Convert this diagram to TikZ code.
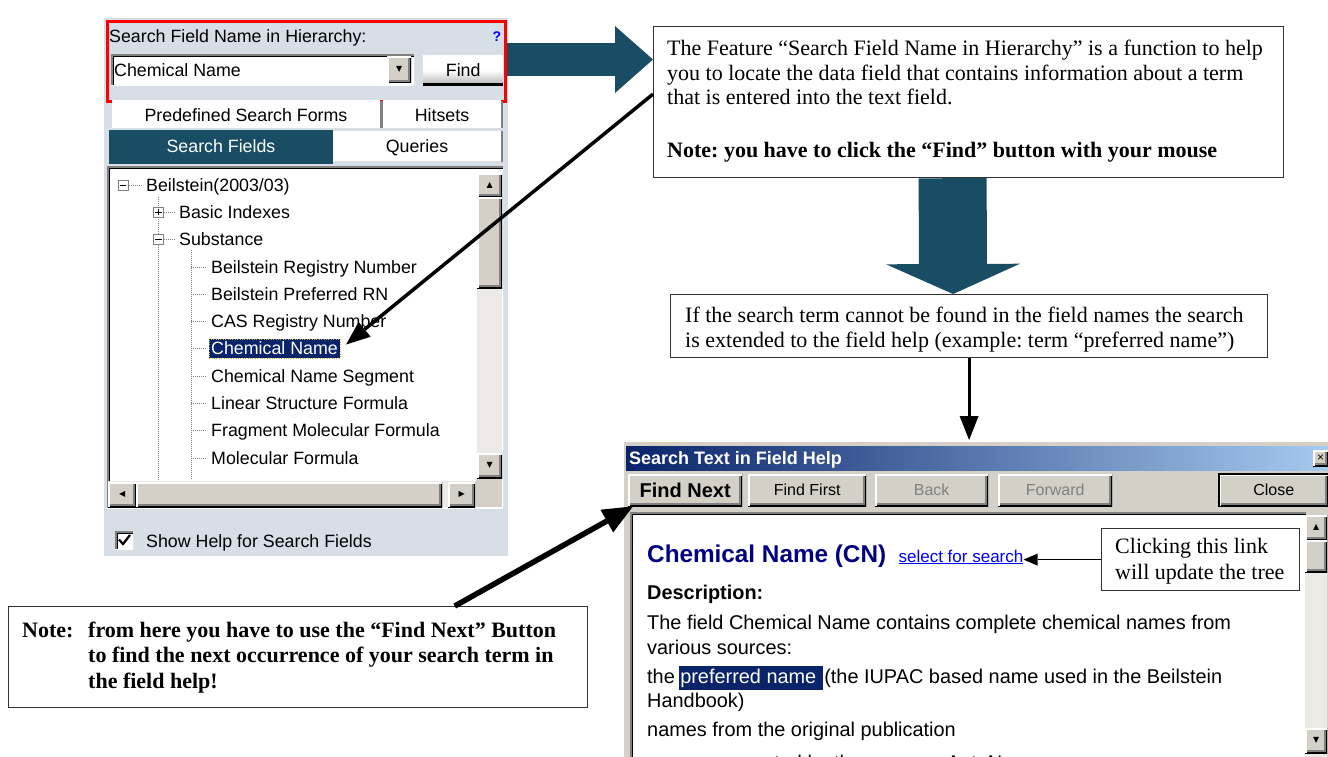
\documentclass[tikz,border=0pt]{standalone}
\usepackage{fontspec}
\setmainfont{Liberation Serif}
\setsansfont{Liberation Sans}
\newfontfamily\symfont{DejaVu Sans}
\usetikzlibrary{arrows.meta,positioning,calc}
\frenchspacing

\definecolor{panelblue}{HTML}{D7DEE6}
\definecolor{deepteal}{HTML}{194D63}
\definecolor{wingray}{HTML}{D4D0C8}
\definecolor{winshadow}{HTML}{808080}
\definecolor{seldark}{HTML}{0A246A}
\definecolor{titlelight}{HTML}{A6CAF0}
\definecolor{trackgray}{HTML}{ECEAE6}
\definecolor{linkblue}{HTML}{0000FF}
\definecolor{headblue}{HTML}{000080}

\newcommand{\uifont}{\sffamily\fontsize{17.8}{20}\selectfont}
\newcommand{\helpfont}{\sffamily\fontsize{19.9}{22}\selectfont}
\newcommand{\notefont}{\rmfamily\fontsize{22}{24.5}\selectfont}

\tikzset{
  ui/.style={font=\uifont, inner sep=0, anchor=base west},
  helptext/.style={font=\helpfont, inner sep=0, anchor=base west},
  notetext/.style={font=\notefont, inner sep=0, anchor=base west},
  calloutbox/.style={draw=black!80, line width=1.2, fill=white, inner sep=0, anchor=north west},
  raised/.style={fill=wingray, inner sep=0, anchor=north west,
    path picture={
      \draw[winshadow,line width=6] (path picture bounding box.south west) -- (path picture bounding box.south east) -- (path picture bounding box.north east);
      \draw[black,line width=2.4] (path picture bounding box.south west) -- (path picture bounding box.south east) -- (path picture bounding box.north east);
      \draw[white,line width=3] (path picture bounding box.south west) -- (path picture bounding box.north west) -- (path picture bounding box.north east);
    }},
  sunken/.style={fill=white, inner sep=0, anchor=north west,
    path picture={
      \draw[white,line width=3] (path picture bounding box.south west) -- (path picture bounding box.south east) -- (path picture bounding box.north east);
      \draw[black,line width=6] (path picture bounding box.south west) -- (path picture bounding box.north west) -- (path picture bounding box.north east);
      \draw[winshadow,line width=3] (path picture bounding box.south west) -- (path picture bounding box.north west) -- (path picture bounding box.north east);
    }},
  arrowglyph/.style={font=\symfont\fontsize{8}{8}\selectfont, inner sep=0},
  treeline/.style={winshadow, line width=0.9, dash pattern=on 1pt off 1pt},
  expander/.style={draw=winshadow, fill=white, minimum size=10, inner sep=0},
  fatarrow/.style={deepteal, line width=33, -{Triangle[length=38pt,width=67pt,line width=0pt]}},
  pointer/.style={black, line width=3, -{Triangle[length=24pt,width=19pt,line width=0pt]}},
}

\begin{document}
\begin{tikzpicture}[x=1pt,y=-1pt]
  \useasboundingbox (0,0) rectangle (1328,756);
  \fill[white] (0,0) rectangle (1328,756);

  % ---------- search panel ----------
  \fill[panelblue] (104,18) rectangle (508,556);

  \node[ui] (fieldlabel) at (109,42) {Search Field Name in Hierarchy:};
  \node[font=\sffamily\bfseries\fontsize{14}{14}\selectfont, text=linkblue, inner sep=0, anchor=base] (helpmark) at (497,41) {?};
  \node[sunken, minimum width=303, minimum height=31] (combo) at (111,54) {};
  \node[ui] (combotext) at (114,76) {Chemical Name};
  \node[raised, minimum width=24, minimum height=26] (combodrop) at (387,56.5) {};
  \node[arrowglyph] (dropglyph) at (combodrop) {▼};
  \node[top color=white, bottom color=gray!60, middle color=white, minimum width=80, minimum height=30,
        inner sep=0, anchor=north west, font=\uifont,
        path picture={\draw[black,line width=4] (path picture bounding box.south west) -- (path picture bounding box.south east);}]
        (findbtn) at (423,55) {Find};
  \node[draw=red, line width=3, minimum width=398, minimum height=80, inner sep=0, anchor=north west] (findpanel) at (106,19.5) {};

  % tabs
  \fill[white] (112,100) rectangle (380,128);
  \draw[winshadow, line width=3] (381.5,101) -- (381.5,128);
  \node[ui, anchor=base] (tabforms) at (246,121) {Predefined Search Forms};
  \fill[white] (383,100) rectangle (501,128);
  \draw[winshadow, line width=2] (502,101) -- (502,128);
  \node[ui, anchor=base] (tabhits) at (442,121) {Hitsets};
  \fill[deepteal] (109,130) rectangle (333,164);
  \node[ui, anchor=base, text=white] (tabfields) at (221,152) {Search Fields};
  \fill[white] (333,131) rectangle (501,161);
  \draw[winshadow, line width=2] (502,131) -- (502,162);
  \node[ui, anchor=base] (tabqueries) at (417,152) {Queries};

  % field tree
  \node[sunken, minimum width=396, minimum height=342] (treebox) at (107,166) {};
  \draw[treeline] (158.5,197) -- (158.5,480);
  \draw[treeline] (191,250) -- (191,480);
  \draw[treeline] (129,185) -- (142,185);
  \foreach \y in {212,239}
    \draw[treeline] (164,\y) -- (176,\y);
  \foreach \i in {0,...,7}
    \draw[treeline] (191,{267+27.3*\i}) -- (206,{267+27.3*\i});

  \node[expander] (rootexp) at (123,185) {};
  \draw ([xshift=2]rootexp.west) -- ([xshift=-2]rootexp.east);
  \node[expander] (basicexp) at (158.5,212) {};
  \draw ([xshift=2]basicexp.west) -- ([xshift=-2]basicexp.east);
  \draw ([yshift=-2]basicexp.north) -- ([yshift=2]basicexp.south);
  \node[expander] (substexp) at (158.5,239) {};
  \draw ([xshift=2]substexp.west) -- ([xshift=-2]substexp.east);

  \node[ui] (rootitem) at (146,191) {Beilstein(2003/03)};
  \node[ui] (basicitem) at (179,218) {Basic Indexes};
  \node[ui] (substitem) at (179,245) {Substance};
  \foreach \i/\lab in {0/Beilstein Registry Number, 1/Beilstein Preferred RN, 2/CAS Registry Number,
                      4/Chemical Name Segment, 5/Linear Structure Formula, 6/Fragment Molecular Formula,
                      7/Molecular Formula}
    \node[ui] (field\i) at (211,{273+27.3*\i}) {\lab};
  \node[ui, fill=seldark, text=white, draw=yellow!70!black, dotted, inner xsep=2, inner ysep=3] (chemsel) at (209,{273+27.3*3}) {Chemical Name};

  % tree scrollbars
  \fill[trackgray] (477,173) rectangle (502,479);
  \node[raised, minimum width=25, minimum height=24] (treeup) at (477,173) {};
  \node[arrowglyph] (treeupglyph) at (treeup) {▲};
  \node[raised, minimum width=25, minimum height=91] (treethumb) at (477,197) {};
  \node[raised, minimum width=25, minimum height=25] (treedown) at (477,453) {};
  \node[arrowglyph] (treedownglyph) at (treedown) {▼};
  \fill[trackgray] (108,481) rectangle (476,507);
  \node[raised, minimum width=28, minimum height=25] (treeleft) at (108,482) {};
  \node[arrowglyph] (treeleftglyph) at (treeleft) {◀};
  \node[raised, minimum width=306, minimum height=25] (treehthumb) at (136,482) {};
  \node[raised, minimum width=27, minimum height=25] (treeright) at (448,482) {};
  \node[arrowglyph] (treerightglyph) at (treeright) {▶};
  \fill[wingray] (476,479) rectangle (502,507);

  % show help option
  \node[sunken, minimum size=18] (checkbox) at (115,531) {};
  \draw[line width=2.2] (119,539.5) -- (123,544) -- (130,535);
  \node[ui] (checklabel) at (146,547) {Show Help for Search Fields};

  % ---------- field help window ----------
  \node[fill=wingray, minimum width=708, minimum height=320, inner sep=0, anchor=north west] (helpwin) at (622,440) {};
  \draw[white, line width=1.5] (623,760) -- (623,441) -- (1330,441);
  \shade[left color=seldark, right color=titlelight] (626,446) rectangle (1330,470);
  \node[font=\sffamily\bfseries\fontsize{18}{20}\selectfont, text=white, inner sep=0, anchor=base west] (wintitle) at (629,464) {Search Text in Field Help};
  \node[raised, minimum width=15, minimum height=16] (wincross) at (1313,450) {};
  \node[font=\sffamily\fontsize{12}{12}\selectfont, inner sep=0] (wincrossglyph) at (wincross) {×};

  \node[raised, minimum width=114, minimum height=32, font=\sffamily\bfseries\fontsize{20}{22}\selectfont] (findnextbtn) at (628,474) {Find Next};
  \node[raised, minimum width=118, minimum height=32, font=\sffamily\fontsize{16}{18}\selectfont] (findfirstbtn) at (748,474) {Find First};
  \node[raised, minimum width=113, minimum height=32, font=\sffamily\fontsize{16}{18}\selectfont, text=winshadow] (backbtn) at (875,474) {Back};
  \node[raised, minimum width=114, minimum height=32, font=\sffamily\fontsize{16}{18}\selectfont, text=winshadow] (forwardbtn) at (998,474) {Forward};
  \node[raised, minimum width=109, minimum height=32, font=\sffamily\fontsize{16}{18}\selectfont] (closebtn) at (1219,474) {Close};
  \draw[black, line width=1.5] (closebtn.north west) rectangle (closebtn.south east);

  % help text area
  \fill[white] (630,512) rectangle (1306,760);
  \draw[winshadow, line width=1.5] (630.75,760) -- (630.75,512.75) -- (1306,512.75);
  \draw[black, line width=1.5] (632.25,760) -- (632.25,514.25) -- (1306,514.25);
  \fill[trackgray] (1305,515) rectangle (1327,760);
  \node[raised, minimum width=22, minimum height=25] (helpup) at (1305,515) {};
  \node[arrowglyph] (helpupglyph) at (helpup) {▲};
  \node[raised, minimum width=22, minimum height=32] (helpthumb) at (1305,540) {};
  \node[raised, minimum width=22, minimum height=25] (helpdown) at (1305,728) {};
  \node[arrowglyph] (helpdownglyph) at (helpdown) {▼};

  \node[font=\sffamily\bfseries\fontsize{24.3}{26}\selectfont, text=headblue, inner sep=0, anchor=base west] (cnhead) at (647,562) {Chemical Name (CN)};
  \node[font=\sffamily\fontsize{17}{19}\selectfont, text=linkblue, inner sep=0, anchor=base west] (selectlink) at ([xshift=12]cnhead.base east) {\underline{select for search}};
  \node[helptext, font=\sffamily\bfseries\fontsize{19.9}{22}\selectfont] (descr) at (647,599) {Description:};
  \node[helptext] (descline1) at (647,629) {The field Chemical Name contains complete chemical names from};
  \node[helptext] (descline2) at (647,654) {various sources:};
  \node[helptext] (theword) at (647,683) {the};
  \node[helptext, fill=seldark, text=white, inner xsep=1, inner ysep=3] (prefword) at ([xshift=4]theword.base east) {preferred name\kern0.28em};
  \node[helptext] (descline3) at ([xshift=1]prefword.base east) {(the IUPAC based name used in the Beilstein};
  \node[helptext] (descline4) at (647,707) {Handbook)};
  \node[helptext] (descline5) at (647,736) {names from the original publication};
  \node[helptext] (descline6) at (647,769) {names generated by the program AutoNom};

  % link callout
  \node[calloutbox, minimum width=198, minimum height=62] (clickbox) at (1101,528) {};
  \node[notetext] (clickline1) at (1115,553) {Clicking this link};
  \node[notetext] (clickline2) at (1115,579) {will update the tree};
  \draw[black, line width=1.2, -{Triangle[length=14pt,width=12pt,line width=0pt]}] (clickbox.west) -- (clickbox.west -| selectlink.east);

  % ---------- explanation boxes ----------
  \node[calloutbox, minimum width=630, minimum height=151] (featbox) at (653,26) {};
  \node[notetext] (featline1) at (667,55) {The Feature “Search Field Name in Hierarchy” is a function to help};
  \node[notetext] (featline2) at (667,80) {you to locate the data field that contains information about a term};
  \node[notetext] (featline3) at (667,104) {that is entered into the text field.};
  \node[notetext, font=\notefont\bfseries] (featnote) at (667,157) {Note: you have to click the “Find” button with your mouse};

  \node[calloutbox, minimum width=597, minimum height=63] (extbox) at (670,294) {};
  \node[notetext] (extline1) at (685,322) {If the search term cannot be found in the field names the search};
  \node[notetext] (extline2) at (685,347) {is extended to the field help (example: term “preferred name”)};

  \node[calloutbox, minimum width=579, minimum height=101] (findnote) at (8,606) {};
  \node[notetext, font=\notefont\bfseries] (noteword) at (22,637) {Note:};
  \node[notetext, font=\notefont\bfseries] (noteline1) at (88,637) {from here you have to use the “Find Next” Button};
  \node[notetext, font=\notefont\bfseries] (noteline2) at (88,662) {to find the next occurrence of your search term in};
  \node[notetext, font=\notefont\bfseries] (noteline3) at (88,688) {the field help!};

  % ---------- arrows ----------
  \draw[fatarrow] (findpanel.east |- 0,59.5) -- (featbox.west |- 0,59.5);
  \draw[fatarrow, line width=68, -{Triangle[length=30pt,width=134pt,line width=0pt]}] ([xshift=-16]featbox.south) -- ([xshift=-16]extbox.north);
  \draw[pointer] (extbox.south) -- (extbox.south |- helpwin.north);
  \draw[pointer, line width=3.5] ([yshift=8]featbox.west) -- ([xshift=6,yshift=4]chemsel.east);
  \draw[pointer, line width=5.5, -{Triangle[length=30pt,width=26pt,line width=0pt]}] ($(findnote.north west)!0.77!(findnote.north east)$) -- ([xshift=5]findnextbtn.south west);
\end{tikzpicture}
\end{document}
